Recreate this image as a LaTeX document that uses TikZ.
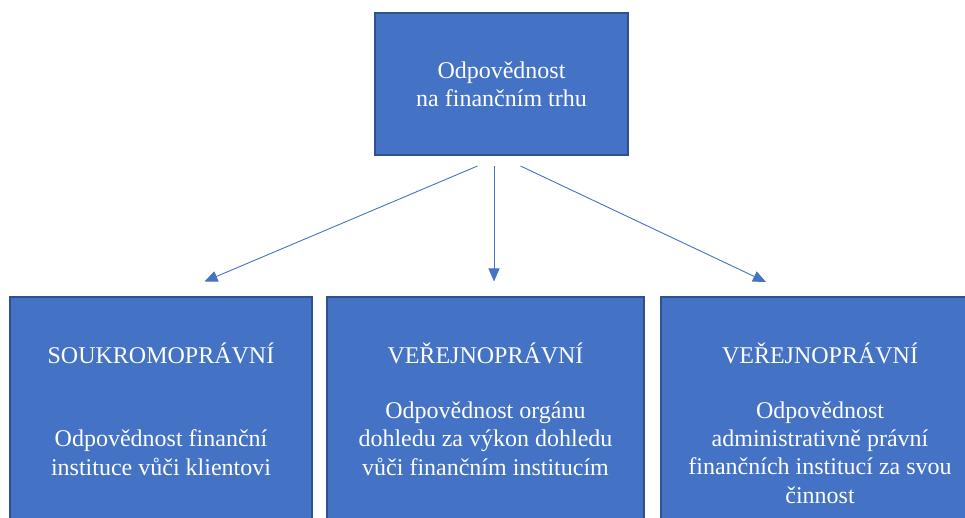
\documentclass[tikz,border=0pt]{standalone}
\usepackage{fontspec}
\setmainfont{Liberation Serif}
\usetikzlibrary{arrows.meta,calc}
\definecolor{boxfill}{HTML}{4472C4}
\definecolor{boxline}{HTML}{2F528F}
\definecolor{arrowblue}{HTML}{4472C4}
\begin{document}
\begin{tikzpicture}[x=1pt,y=-1pt,
  box/.style={draw=boxline,fill=boxfill,line width=1.3pt,rectangle,
    anchor=north west,inner sep=0pt,outer sep=0pt},
  % base anchor of a multi-line label sits on its last line
  txt/.style={text=white,align=center,inner sep=0pt,anchor=base,
    font=\fontsize{24}{28.3}\selectfont},
  arr/.style={draw=arrowblue,line width=0.9pt,
    -{Triangle[length=13pt,width=11pt]}}]
  \useasboundingbox (0,0) rectangle (965,518);
  \clip (0,0) rectangle (965,518);

  % boxes
  \node[box,minimum width=253pt,minimum height=142pt] (top) at (375,13) {};
  \node[box,minimum width=302pt,minimum height=240pt] (left) at (10,297) {};
  \node[box,minimum width=317pt,minimum height=240pt] (mid) at (327,297) {};
  \node[box,minimum width=318pt,minimum height=240pt] (right) at (661,297) {};

  % labels
  \node[txt] (ttop) at (501.5,107) {Odpovědnost\\na finančním trhu};
  \node[txt] (hleft) at (161,363) {SOUKROMOPRÁVNÍ};
  \node[txt] (bleft) at (161,475) {Odpovědnost finanční\\instituce vůči klientovi};
  \node[txt] (hmid) at (485.5,363) {VEŘEJNOPRÁVNÍ};
  \node[txt] (bmid) at (485.5,475) {Odpovědnost orgánu\\dohledu za výkon dohledu\\vůči finančním institucím};
  \node[txt] (hright) at (820,363) {VEŘEJNOPRÁVNÍ};
  \node[txt] (bright) at (820,503) {Odpovědnost\\administrativně právní\\finančních institucí za svou\\činnost};

  % connector ends
  \coordinate (s1) at ($(top.south)+(-24,11)$);
  \coordinate (s2) at ($(top.south)+(-7.5,11)$);
  \coordinate (s3) at ($(top.south)+(19,11)$);
  \coordinate (e1) at ($(left.north)+(43.5,-15.5)$);
  \coordinate (e2) at ($(mid.north)+(8.5,-15.5)$);
  \coordinate (e3) at ($(right.north)+(-54,-15)$);

  \draw[arr] (s1) -- (e1);
  \draw[arr] (s2) -- (e2);
  \draw[arr] (s3) -- (e3);
\end{tikzpicture}
\end{document}
